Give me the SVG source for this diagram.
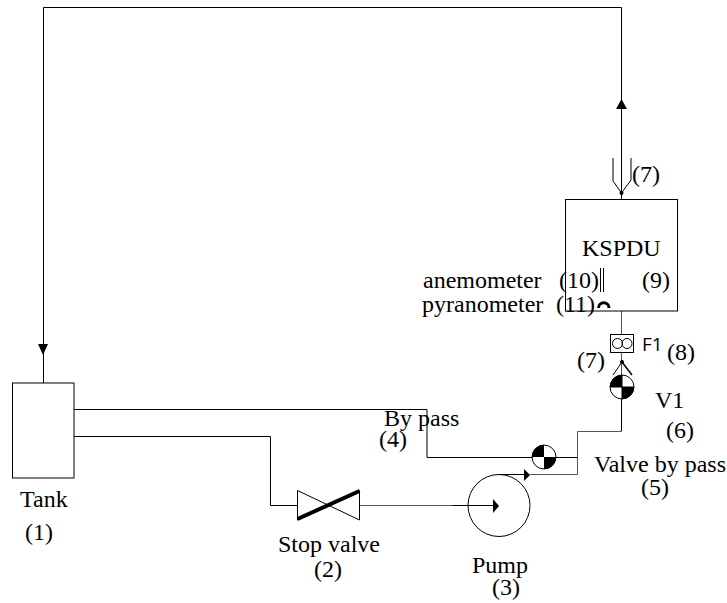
<svg xmlns="http://www.w3.org/2000/svg" width="727" height="603" viewBox="0 0 727 603">
<style>
.l{fill:none;stroke:#000;stroke-width:1}
.g{fill:none;stroke:#555;stroke-width:1}
.w{fill:#fff;stroke:#000;stroke-width:1}
.k{fill:#000;stroke:none}
text{font-family:"Liberation Serif",serif;font-size:24px;fill:#000}
text.s{font-family:"Open Sans",sans-serif;font-size:19px}
</style>
<g id="connectors">
<path class="l" d="M43.500 383V7.500H621.500V199"/>
<path class="k" d="M38 344H48L43 355Z"/>
<path class="k" d="M621.500 99L627 109H616Z"/>
<path class="l" d="M74 409.500H427V457.500H578"/>
<path class="l" d="M74 436.500H270.500V505.500H298"/>
<path class="g" d="M360 505.500H453"/>
<path class="l" d="M453 505.500H494"/>
<path class="k" d="M493 499L499 506L493 513Z"/>
<path class="l" d="M498 474.500H526"/>
<path class="k" d="M524 469L530 475L524 481Z"/>
<path class="g" d="M530 474.500H577.500V431.500H621.500V374"/>
<path class="g" d="M621.500 311V334"/>
<path class="g" d="M621.500 352V375"/>
<path class="l" d="M621.500 399V431"/>
<path class="l" d="M613 158V181L621.500 193L631 180V158"/>
<path class="l" d="M622 362L613 375"/>
<path d="M622 362L632 375" fill="none" stroke="#000" stroke-width="1.500"/>
<circle class="k" cx="622" cy="362" r="2"/>
<circle class="k" cx="621.500" cy="193" r="2"/>
</g>
<g id="tank"><rect class="w" x="12.500" y="383" width="61.500" height="95"/><text x="20" y="507">Tank</text><text x="25" y="540">(1)</text></g>
<g id="stop-valve">
<path class="l" d="M297.500 490.500L359.500 520V490.500L297.500 520Z"/>
<path d="M297.500 519L359.500 491" fill="none" stroke="#000" stroke-width="4"/>
<text x="278" y="552">Stop valve</text><text x="314" y="577">(2)</text></g>
<g id="pump"><circle cx="499" cy="505.500" r="31" fill="none" stroke="#000" stroke-width="1"/><text x="472" y="573">Pump</text><text x="492" y="595">(3)</text></g>
<g id="bypass"><text x="384" y="426">By pass</text><text x="379" y="447">(4)</text></g>
<g id="valve-bypass">
<circle class="w" cx="544" cy="457" r="12"/>
<path class="k" d="M544 445A12 12 0 0 0 532 457H544ZM544 457V469A12 12 0 0 0 556 457Z"/>
<text x="594" y="472">Valve by pass</text><text x="641" y="495">(5)</text></g>
<g id="v1">
<circle class="w" cx="622" cy="387" r="12"/>
<path class="k" d="M622 375A12 12 0 0 0 610 387H622ZM622 387V399A12 12 0 0 0 634 387Z"/>
<path d="M610 387H634M622 375V399" stroke="#000" stroke-width="1"/>
<text x="655" y="408">V1</text><text x="666" y="438">(6)</text></g>
<g id="f1">
<rect class="w" x="610.500" y="334.500" width="23" height="18"/>
<circle class="l" cx="617.500" cy="343.500" r="5"/><circle class="l" cx="627" cy="343.500" r="5"/>
<text class="s" x="642" y="351">F1</text><text x="667" y="360">(8)</text><text x="577" y="368">(7)</text></g>
<g id="kspdu">
<rect class="l" x="565.500" y="199.500" width="112" height="111.500"/>
<text x="582" y="256">KSPDU</text><text x="642" y="288">(9)</text>
<text x="423" y="288">anemometer</text><text x="559" y="288">(10)</text>
<path class="l" d="M600.500 268V292M603.500 268V292"/>
<text x="422" y="312">pyranometer</text><text x="556" y="312">(11)</text>
<path d="M598.500 308A5 5 0 0 1 609 308" fill="none" stroke="#000" stroke-width="3"/>
<text x="632" y="182">(7)</text></g>
</svg>
